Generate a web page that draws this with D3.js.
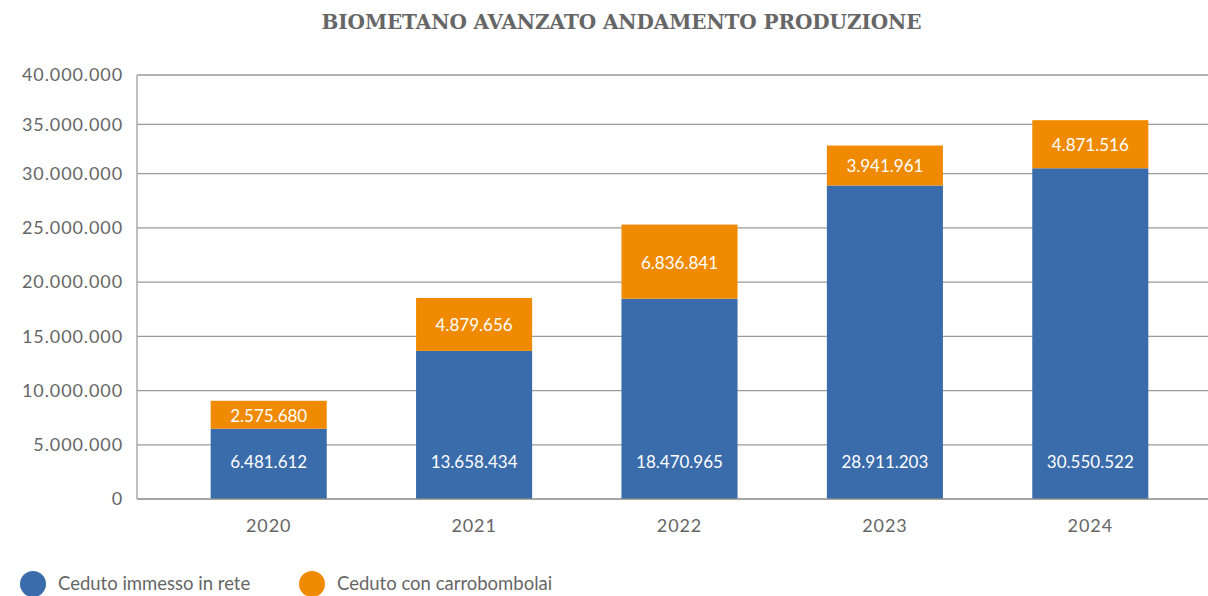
<!DOCTYPE html>
<html>
<head>
<meta charset="utf-8">
<script src="https://cdn.jsdelivr.net/npm/d3@7"></script>
<style>
  body { margin: 0; background: #fff; }
  svg text { font-family: Lato, 'Open Sans', sans-serif; }
</style>
</head>
<body>
<svg id="chart"></svg>
<script>
const years = ['2020', '2021', '2022', '2023', '2024'];
const immesso = [6481612, 13658434, 18470965, 28911203, 30550522];
const carro = [2575680, 4879656, 6836841, 3941961, 4871516];
const yTicks = [0, 5000000, 10000000, 15000000, 20000000, 25000000, 30000000, 35000000, 40000000];
const seriesNames = ['Ceduto immesso in rete', 'Ceduto con carrobombolai'];

const svgWidth = 1208;
const svgHeight = 596;
const blue = '#3a6bab';
const orange = '#f08a00';
const textColor = '#666';

const svg = d3.select('#chart')
  .attr('width', svgWidth)
  .attr('height', svgHeight);

const fmt = d3.formatLocale({ decimal: ',', thousands: '.', grouping: [3], currency: ['', '€'] }).format(',d');

// the original axis is slightly compressed above 30M
const y = d3.scaleLinear()
  .domain([0, 30000000, 40000000])
  .range([499, 173.7, 75]);

const x = d3.scaleBand()
  .domain(years)
  .range([166, 1193])
  .paddingInner(0.435)
  .paddingOuter(0.2175);

const data = years.map((yr, i) => ({ year: yr, immesso: immesso[i], carro: carro[i] }));
const stacked = d3.stack().keys(['immesso', 'carro'])(data);

// title
svg.append('text')
  .attr('x', 621.5)
  .attr('y', 29)
  .attr('text-anchor', 'middle')
  .attr('fill', textColor)
  .style('font-family', "'DejaVu Serif', 'Liberation Serif', serif")
  .style('font-weight', 'bold')
  .style('font-size', '20px')
  .attr('textLength', 600)
  .attr('lengthAdjust', 'spacing')
  .text('BIOMETANO AVANZATO ANDAMENTO PRODUZIONE');

// gridlines
svg.append('g')
  .selectAll('line')
  .data(yTicks.slice(1))
  .enter()
  .append('line')
  .attr('x1', 137)
  .attr('x2', svgWidth)
  .attr('y1', d => y(d))
  .attr('y2', d => y(d))
  .attr('stroke', '#9a9a9a')
  .attr('stroke-width', 1.3);

// y axis labels
svg.append('g')
  .selectAll('text')
  .data(yTicks)
  .enter()
  .append('text')
  .attr('x', 123)
  .attr('y', d => y(d))
  .attr('dy', '0.35em')
  .attr('text-anchor', 'end')
  .attr('fill', textColor)
  .style('font-size', '18px')
  .style('letter-spacing', '0.9px')
  .text(d => fmt(d));

// stacked bars
const layer = svg.append('g')
  .selectAll('g')
  .data(stacked)
  .enter()
  .append('g')
  .attr('fill', (d, i) => (i === 0 ? blue : orange));

layer.selectAll('rect')
  .data(d => d)
  .enter()
  .append('rect')
  .attr('x', d => x(d.data.year))
  .attr('y', d => y(d[1]))
  .attr('width', x.bandwidth())
  .attr('height', d => y(d[0]) - y(d[1]));

// value labels
svg.append('g')
  .selectAll('text')
  .data(stacked[0])
  .enter()
  .append('text')
  .attr('x', d => x(d.data.year) + x.bandwidth() / 2)
  .attr('y', y(0) - 37)
  .attr('dy', '0.35em')
  .attr('text-anchor', 'middle')
  .attr('fill', '#fff')
  .style('font-size', '17px')
  .text(d => fmt(d[1] - d[0]));

svg.append('g')
  .selectAll('text')
  .data(stacked[1])
  .enter()
  .append('text')
  .attr('x', d => x(d.data.year) + x.bandwidth() / 2)
  .attr('y', d => (y(d[0]) + y(d[1])) / 2 + 1)
  .attr('dy', '0.35em')
  .attr('text-anchor', 'middle')
  .attr('fill', '#fff')
  .style('font-size', '17px')
  .text(d => fmt(d[1] - d[0]));

// axis lines
svg.append('line')
  .attr('x1', 137).attr('x2', svgWidth)
  .attr('y1', y(0)).attr('y2', y(0))
  .attr('stroke', '#888')
  .attr('stroke-width', 1.5);

svg.append('line')
  .attr('x1', 137).attr('x2', 137)
  .attr('y1', y(40000000)).attr('y2', y(0))
  .attr('stroke', '#aaa')
  .attr('stroke-width', 1.5);

// x labels
svg.append('g')
  .selectAll('text')
  .data(years)
  .enter()
  .append('text')
  .attr('x', d => x(d) + x.bandwidth() / 2)
  .attr('y', 526)
  .attr('dy', '0.35em')
  .attr('text-anchor', 'middle')
  .attr('fill', textColor)
  .style('font-size', '18px')
  .style('letter-spacing', '0.9px')
  .text(d => d);

// legend
const legend = svg.append('g')
  .selectAll('g')
  .data(seriesNames)
  .enter()
  .append('g')
  .attr('transform', (d, i) => `translate(${i === 0 ? 33 : 312},584)`);

legend.append('circle')
  .attr('r', 13)
  .attr('fill', (d, i) => (i === 0 ? blue : orange));

legend.append('text')
  .attr('x', 25)
  .attr('y', 0)
  .attr('dy', '0.35em')
  .attr('fill', textColor)
  .style('font-size', '18.5px')
  .text(d => d);
</script>
</body>
</html>
